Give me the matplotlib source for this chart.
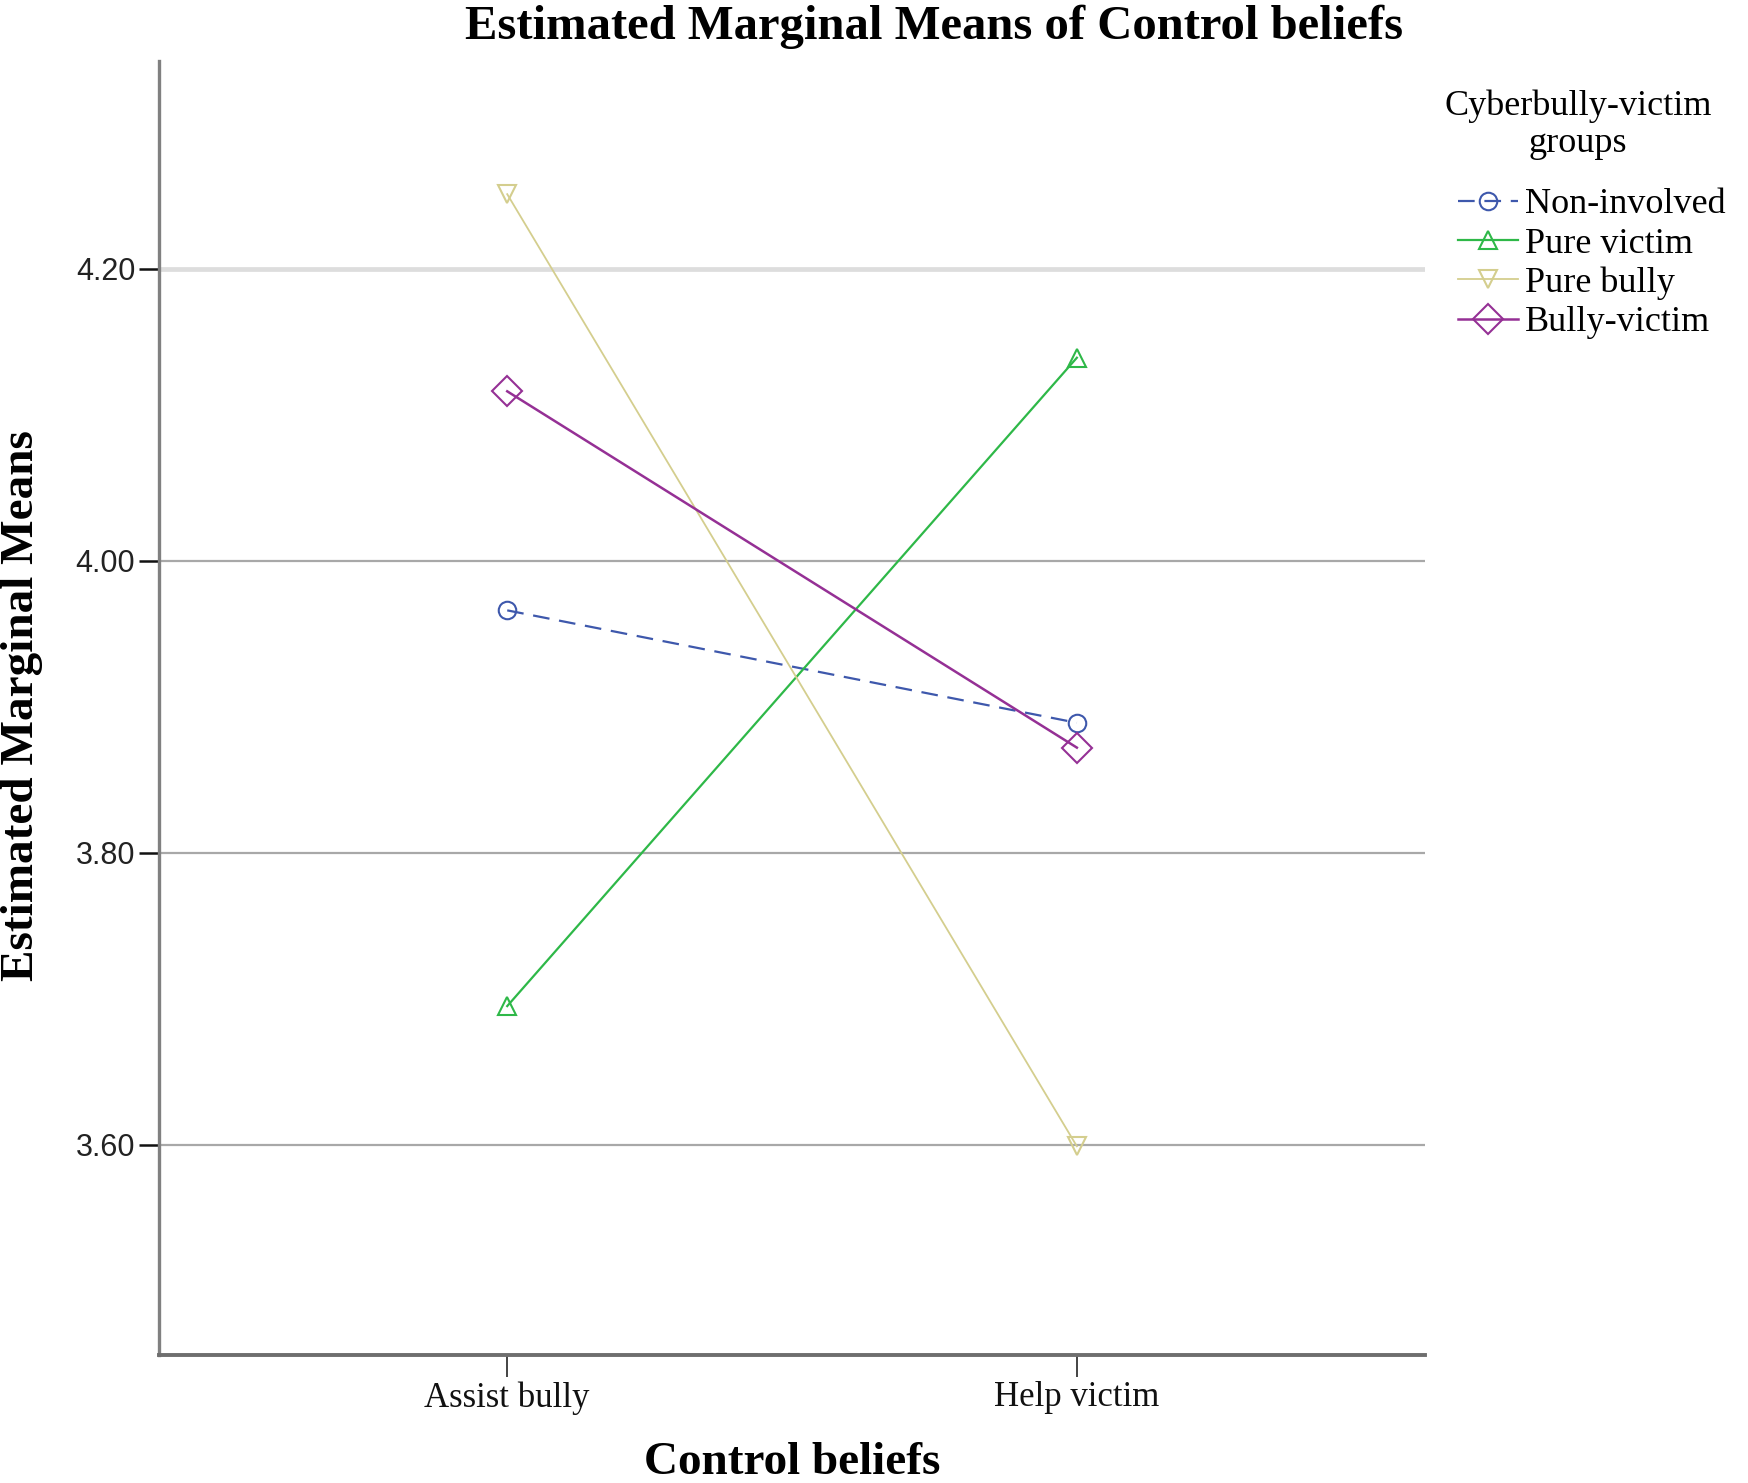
import matplotlib
matplotlib.use("Agg")
import matplotlib.pyplot as plt

# ---- data ----
categories = ["Assist bully", "Help victim"]
groups = ["Non-involved", "Pure victim", "Pure bully", "Bully-victim"]
non_involved = [3.966, 3.889]
pure_victim = [3.695, 4.139]
pure_bully = [4.251, 3.599]
bully_victim = [4.116, 3.872]
yticks = [3.60, 3.80, 4.00, 4.20]
ytick_labels = ["3.60", "3.80", "4.00", "4.20"]

series = [non_involved, pure_victim, pure_bully, bully_victim]
colors = ["#3E58AC", "#2EB848", "#D4CE8E", "#953095"]
markers = ["o", "^", "v", "D"]
msizes = [12.6, 13.0, 13.0, 15.5]
lwidths = [1.6, 1.6, 1.3, 1.8]
styles = [(0, (12, 7)), "-", "-", "-"]

plt.rcParams["lines.scale_dashes"] = False
SERIF = "Liberation Serif"
SANS = "Liberation Sans"

W, H = 1748, 1483
fig = plt.figure(figsize=(W / 100, H / 100), dpi=100)
left, right, top, bottom = 159.4, 1424.7, 61.3, 1354.5
ax = fig.add_axes([left / W, 1 - bottom / H, (right - left) / W, (bottom - top) / H])

x = list(range(len(categories)))
handles = []
for vals, c, m, ms, lw, ls, name in zip(series, colors, markers, msizes, lwidths, styles, groups):
    h, = ax.plot(x, vals, color=c, lw=lw, ls=ls, marker=m, ms=ms,
                 mfc="none", mec=c, mew=1.5, label=name, zorder=3)
    handles.append(h)

ax.set_xlim(-0.6106, 1.6106)
ax.set_ylim(3.4564, 4.342)
ax.set_xticks(x)
ax.set_xticklabels(categories, fontsize=25, family=SERIF, color="#111111")
ax.set_yticks(yticks)
ax.set_yticklabels(ytick_labels, fontsize=22, family=SANS, color="#222222")

ax.yaxis.grid(True, color="#a8a8a8", lw=1.6, zorder=1)
ax.xaxis.grid(False)
ax.set_axisbelow(True)
gl = ax.yaxis.get_gridlines()
gl[3].set_color("#dddddd")
gl[3].set_linewidth(3.4)

for s in ["top", "right"]:
    ax.spines[s].set_visible(False)
ax.spines["left"].set_color("#808080")
ax.spines["left"].set_linewidth(2.4)
ax.spines["bottom"].set_color("#6e6e6e")
ax.spines["bottom"].set_linewidth(2.8)

ax.tick_params(axis="y", direction="out", length=14.4, width=1.8, color="#111111", pad=3)
ax.tick_params(axis="x", direction="out", length=16, width=1.1, color="#111111", pad=3.3)

# titles
fig.text(934 / W, 1 - 39 / H, "Estimated Marginal Means of Control beliefs",
         ha="center", va="baseline", fontsize=35, weight="bold", family=SERIF)
fig.text(792 / W, 1 - 1474 / H, "Control beliefs", ha="center", va="baseline",
         fontsize=34, weight="bold", family=SERIF)
fig.text(33 / W, 1 - 706 / H, "Estimated Marginal Means", rotation=90,
         rotation_mode="anchor", ha="center", va="baseline",
         fontsize=34, weight="bold", family=SERIF)

# legend
fig.text(1578 / W, 1 - 114.6 / H, "Cyberbully-victim", ha="center", va="baseline",
         fontsize=26, family=SERIF)
fig.text(1578 / W, 1 - 152 / H, "groups", ha="center", va="baseline",
         fontsize=26, family=SERIF)
fig.legend(handles=handles, labels=groups, loc="upper left",
           bbox_to_anchor=(1458 / W, 1 - 188 / H), bbox_transform=fig.transFigure,
           frameon=False, borderpad=0, borderaxespad=0, handlelength=1.66,
           handletextpad=0.2, labelspacing=0.166, numpoints=1,
           prop={"family": SERIF, "size": 26})

fig.savefig("out.png", dpi=100, facecolor="white")
